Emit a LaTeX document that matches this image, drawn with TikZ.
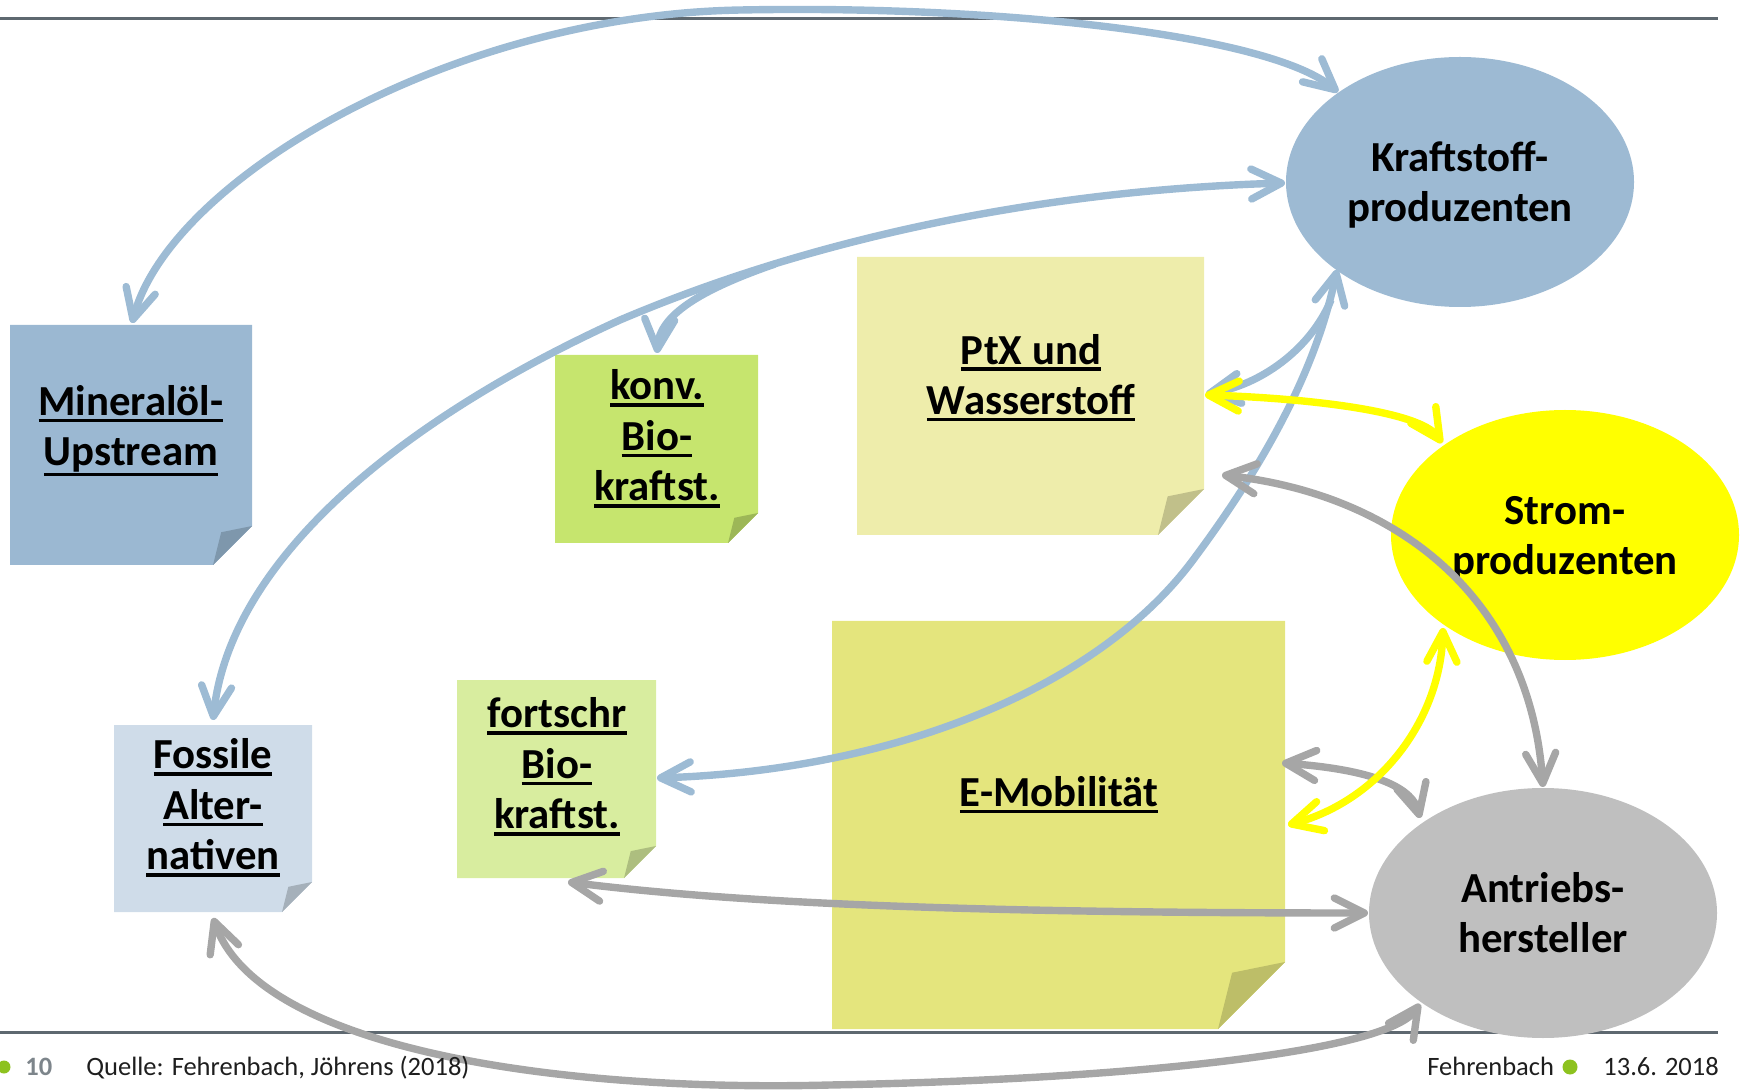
\documentclass[tikz,border=0pt]{standalone}
\usepackage{fontspec}
\setmainfont{Carlito}
\usetikzlibrary{arrows.meta,shapes.geometric}
\definecolor{kpblue}{HTML}{9DBAD3}
\definecolor{arrblue}{HTML}{9DBBD4}
\definecolor{muFill}{HTML}{9BB8D2}
\definecolor{muFold}{HTML}{7E97AC}
\definecolor{kbFill}{HTML}{C6E56E}
\definecolor{kbFold}{HTML}{9DB757}
\definecolor{ptFill}{HTML}{EEEDAB}
\definecolor{ptFold}{HTML}{C1C08A}
\definecolor{emFill}{HTML}{E4E57D}
\definecolor{emFold}{HTML}{BDBE68}
\definecolor{fbFill}{HTML}{D8ED9F}
\definecolor{fbFold}{HTML}{ADBE7F}
\definecolor{faFill}{HTML}{CFDCE9}
\definecolor{faFold}{HTML}{A5B0BA}
\definecolor{spYellow}{HTML}{FFFF00}
\definecolor{ahGray}{HTML}{BFBFBF}
\definecolor{arrGray}{HTML}{A6A6A6}
\definecolor{rulecol}{HTML}{5E6870}
\definecolor{dotgreen}{HTML}{8DC21F}
\definecolor{pagegray}{HTML}{7D858B}
\definecolor{foottext}{HTML}{1E1E1E}
\newcommand\ulA[1]{\setbox0\hbox{#1}\rlap{\rule[-0.16em]{\wd0}{0.08em}}\box0}
\newcommand\ulB[1]{\setbox0\hbox{#1}\rlap{\rule[-0.25em]{\wd0}{0.08em}}\box0}
\newcommand\fst{\rule{0pt}{0.83em}}
\newcommand\lst{\rule[-0.16em]{0pt}{0pt}}
% x1 y1 x2 y2 d fill fold
\newcommand\stickynote[7]{%
  \fill[#6] (#1,#2) -- (#3,#2) -- (#3,#4-#5) -- (#3-#5,#4) -- (#1,#4) -- cycle;
  \fill[#7] (#3,#4-#5) -- (#3-#5+0.21*#5,#4-#5+0.16*#5) -- (#3-#5,#4) -- cycle;}
\begin{document}
\begin{tikzpicture}[x=0.5pt,y=-0.5pt,
  lbl/.style={font=\fontsize{21.4}{25.3}\selectfont\bfseries, align=center, inner sep=0pt},
  blob/.style={ellipse, minimum width=174pt, minimum height=125pt, inner sep=0pt, lbl},
  barb/.tip={Straight Barb[length=15pt,width=15pt,round]},
  both/.style={line width=3.7pt, barb-barb},
  onlyend/.style={line width=3.7pt, -barb},
  onlystart/.style={line width=3.7pt, barb-},
  foot/.style={font=\fontsize{13.25}{16}\selectfont, inner sep=0pt, anchor=base west, text=foottext}]
\useasboundingbox (0,0) rectangle (1740,1090);
% rules
\draw[rulecol, line width=1.5pt] (0,19) -- (1718,19);
\draw[rulecol, line width=1.5pt] (0,1032) -- (1718,1032);
% sticky notes
\stickynote{10}{325}{252}{565}{39}{muFill}{muFold}
\stickynote{555}{355}{758}{543}{30}{kbFill}{kbFold}
\stickynote{857}{257}{1204}{535}{46}{ptFill}{ptFold}
\stickynote{832}{621}{1285}{1029}{67}{emFill}{emFold}
\stickynote{457}{680}{656}{878}{32}{fbFill}{fbFold}
\stickynote{114}{725}{312}{912}{30}{faFill}{faFold}
\node[lbl] (mu) at (131,428) {\fst\ulA{Mineralöl-}\\\ulB{Upstream}\lst};
\node[lbl] (kb) at (657,436) {\fst\ulA{konv.}\\\ulA{Bio-}\\\ulA{kraftst.}\lst};
\node[lbl] (pt) at (1031,375) {\fst\ulA{PtX und}\\\ulA{Wasserstoff}\lst};
\node[lbl] (em) at (1059,792) {\fst\ulA{E-Mobilität}\lst};
\node[lbl] (fb) at (557,764) {\fst\ulA{fortschr}\\\ulA{Bio-}\\\ulA{kraftst.}\lst};
\node[lbl] (fa) at (213,805) {\fst\ulA{Fossile}\\\ulA{Alter-}\\\ulA{nativen}\lst};
% ellipses
\node[blob, fill=kpblue] (kp) at (1460,182) {\fst Kraftstoff-\\produzenten\lst};
\node[blob, fill=spYellow] (sp) at (1565,535) {\fst Strom-\\produzenten\lst};
\node[blob, fill=ahGray] (ah) at (1543,913) {\fst Antriebs-\\hersteller\lst};
% connector end points
\coordinate (mu-top) at (132,323);
\coordinate (kp-top) at (1338,92);
\coordinate (fa-top) at (213,720);
\coordinate (kp-left) at (1285,183);
\coordinate (kb-top) at (657,353);
\coordinate (kb-branch) at (775,264);
\coordinate (kp-bl) at (1337,270);
\coordinate (fb-right) at (657,778);
\coordinate (pt-r1) at (1206,394);
\coordinate (kp-merge) at (1331,300);
\coordinate (pt-r2) at (1205,395);
\coordinate (sp-tl) at (1442,443);
\coordinate (pt-r3) at (1222,475);
\coordinate (ah-top) at (1543,787);
\coordinate (em-r1) at (1288,825);
\coordinate (sp-bl) at (1443,628);
\coordinate (em-r2) at (1282,763);
\coordinate (ah-tl) at (1420,818);
\coordinate (fb-bot) at (568,882);
\coordinate (ah-left) at (1368,913);
\coordinate (fa-bot) at (213,918);
\coordinate (ah-bl) at (1420,1004);
% blue connectors
\draw[arrblue, both] (mu-top) .. controls (170,180) and (450,15) .. (741,10)
   .. controls (1000,5) and (1270,35) .. (kp-top);
\draw[arrblue, both] (fa-top) .. controls (230,560) and (400,420) .. (620,320)
   .. controls (820,235) and (1050,190) .. (kp-left);
\draw[arrblue, onlyend] (kb-branch) .. controls (700,290) and (660,315) .. (kb-top);
\draw[arrblue, both] (kp-bl) .. controls (1322,340) and (1290,430) .. (1193,560)
   .. controls (1100,685) and (900,770) .. (fb-right);
\draw[arrblue, onlystart] (pt-r1) .. controls (1260,385) and (1310,350) .. (kp-merge);
% gray connectors
\draw[arrGray, both] (pt-r3) .. controls (1400,495) and (1530,600) .. (ah-top);
\draw[arrGray, both] (em-r2) .. controls (1350,768) and (1410,780) .. (ah-tl);
\draw[arrGray, both] (fb-bot) .. controls (750,905) and (1000,913) .. (ah-left);
\draw[arrGray, both] (fa-bot) .. controls (260,1050) and (560,1092) .. (830,1085)
   .. controls (1100,1080) and (1385,1055) .. (ah-bl);
% yellow connectors
\draw[spYellow, both] (pt-r2) .. controls (1300,398) and (1420,410) .. (sp-tl);
\draw[spYellow, both] (em-r1) .. controls (1380,800) and (1440,720) .. (sp-bl);
% footer
\fill[dotgreen] (4,1067) circle[radius=6.5];
\node[foot, text=pagegray, font=\fontsize{13.25}{16}\selectfont\bfseries] (pg) at (25,1075) {10};
\node[foot] (src) at (86,1075) {Quelle: Fehrenbach, Jöhrens (2018)};
\node[foot] (auth) at (1427,1075) {Fehrenbach};
\fill[dotgreen] (1570,1067) circle[radius=7.5];
\node[foot] (date) at (1603,1075) {13.6. 2018};
\end{tikzpicture}
\end{document}
